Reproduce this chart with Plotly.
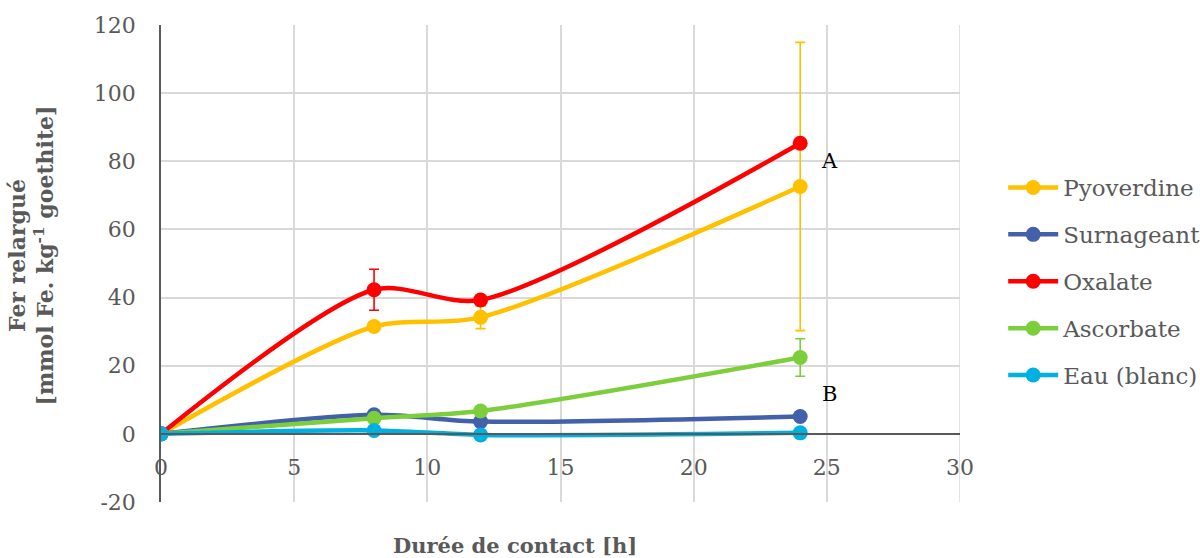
import plotly.graph_objects as go

# Contact time (h)
hours = [0, 8, 12, 24]

# Released iron (mmol Fe / kg goethite) per extractant
pyoverdine = [0, 31.5, 34.2, 72.6]
surnageant = [0, 5.6, 3.6, 5.1]
oxalate = [0, 42.3, 39.3, 85.3]
ascorbate = [0, 4.6, 6.7, 22.4]
eau_blanc = [0, 1.0, -0.3, 0.3]

# Standard deviations (error bars)
pyoverdine_err = [0, 0, 3.3, 42.3]
oxalate_err = [0, 6.0, 0, 0]
ascorbate_err = [0, 0, 0, 5.5]

# Axis ticks
x_ticks = [0, 5, 10, 15, 20, 25, 30]
y_ticks = [-20, 0, 20, 40, 60, 80, 100, 120]
y_tick_labels = ["-20", "0", "20", "40", "60", "80", "100", "120"]

series = [
    ("Pyoverdine", pyoverdine, pyoverdine_err, "#FFC000"),
    ("Surnageant", surnageant, None, "#4360AA"),
    ("Oxalate", oxalate, oxalate_err, "#FF0000"),
    ("Ascorbate", ascorbate, ascorbate_err, "#7DCE3C"),
    ("Eau (blanc)", eau_blanc, None, "#00B0E0"),
]

FONT = "DejaVu Serif"
GREY = "#595959"

fig = go.Figure()
for name, vals, err, color in series:
    kw = {}
    if err is not None:
        kw["error_y"] = dict(type="data", array=err, visible=True,
                             color=color, thickness=1.6, width=5)
    fig.add_trace(go.Scatter(
        x=hours, y=vals, name=name, mode="lines+markers",
        line=dict(color=color, width=4.5, shape="spline", smoothing=0.8),
        marker=dict(color=color, size=15),
        legendgroup=name,
        **kw,
    ))

# Group letters
fig.add_annotation(x=25.1, y=80, text="A", showarrow=False,
                   font=dict(family=FONT, size=21, color="black"))
fig.add_annotation(x=25.1, y=11.7, text="B", showarrow=False,
                   font=dict(family=FONT, size=21, color="black"))

# Axis titles
fig.add_annotation(xref="paper", yref="paper", x=0.443, y=-0.092,
                   yanchor="middle", showarrow=False,
                   text="<b>Durée de contact [h]</b>",
                   font=dict(family=FONT, size=21, color=GREY))
fig.add_annotation(xref="paper", yref="paper", x=-0.162, y=0.516,
                   xanchor="center", yanchor="middle", showarrow=False,
                   textangle=-90,
                   text="<b>Fer relargué<br>[mmol Fe. kg<sup>-1</sup> goethite]</b>",
                   font=dict(family=FONT, size=22, color=GREY))

fig.update_layout(
    width=1200, height=558,
    margin=dict(l=161, r=240, t=25, b=56, autoexpand=False),
    plot_bgcolor="white", paper_bgcolor="white",
    font=dict(family=FONT, size=22, color=GREY),
    legend=dict(xref="container", yref="container", x=0.836, y=0.7025,
                xanchor="left", yanchor="top",
                itemwidth=50, tracegroupgap=14,
                font=dict(family=FONT, size=23, color=GREY),
                bgcolor="rgba(0,0,0,0)"),
    xaxis=dict(range=[0, 30], tickvals=x_ticks, showgrid=True,
               gridcolor="#D9D9D9", gridwidth=1.5, zeroline=False,
               showline=True, linecolor=GREY, linewidth=1.5, anchor="free",
               position=20 / 140, ticks="", ticklabelstandoff=14,
               tickfont=dict(family=FONT, size=22, color=GREY)),
    yaxis=dict(range=[-20, 120], tickvals=y_ticks, ticktext=y_tick_labels,
               showgrid=True, gridcolor="#D9D9D9", gridwidth=1.5,
               zeroline=False, showline=True, linecolor=GREY, linewidth=1.5,
               ticks="", ticklabelstandoff=19,
               tickfont=dict(family=FONT, size=22, color=GREY)),
)

# Right edge of the grid
fig.add_shape(type="line", xref="x", yref="y", x0=30, x1=30, y0=-20, y1=120,
              line=dict(color="#D9D9D9", width=1.5), layer="below")

fig.write_html("out.html")
